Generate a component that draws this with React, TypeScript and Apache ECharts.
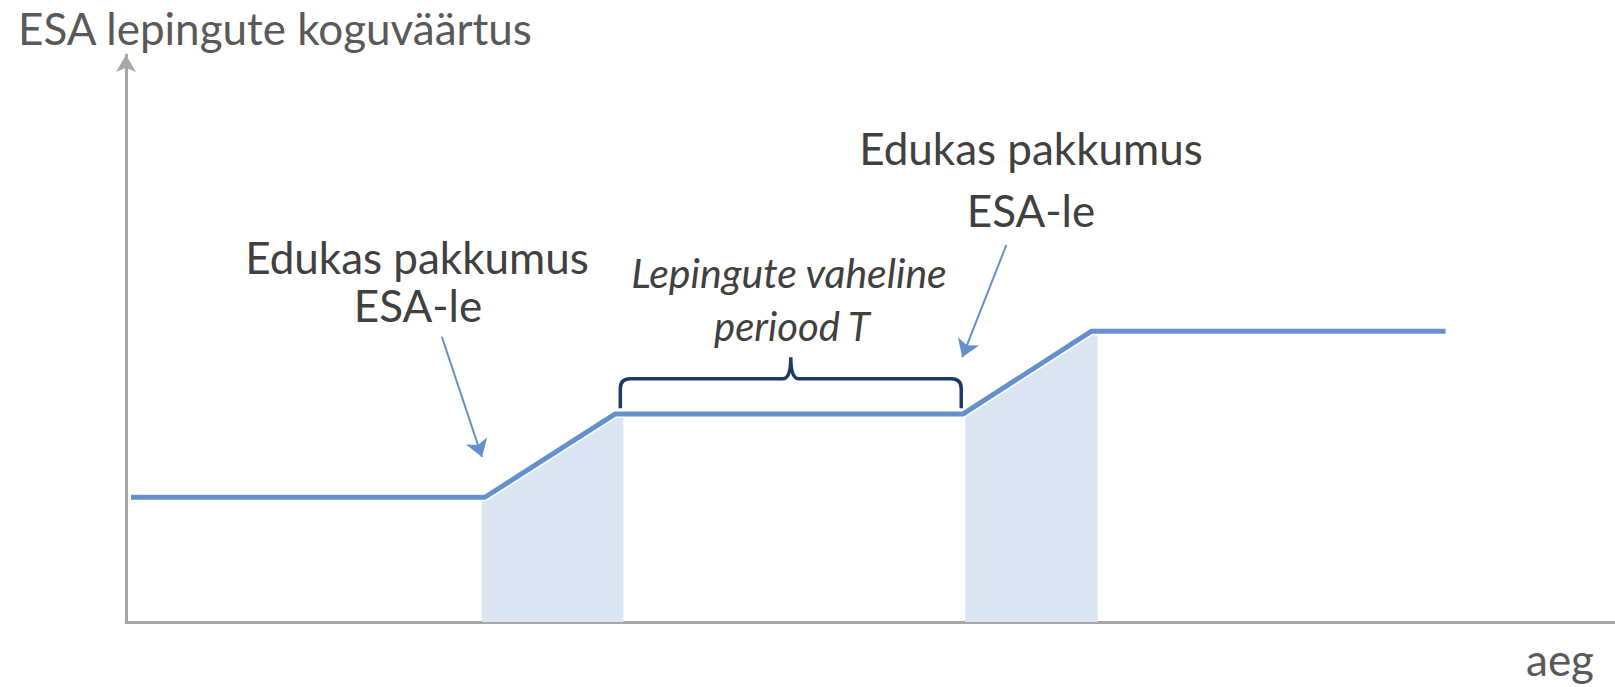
import React, { useEffect, useRef } from "react";
import * as echarts from "echarts";

// Time (x) and total contract value (y), abstract units
const timeline = [0.5, 35.8, 48.8, 83.5, 96.3, 131.6];
const contractValue = [22, 22, 36.7, 36.7, 51.3, 51.3];

// Shaded growth periods after a successful bid
const shade1Time = [35.5, 48.8, 49.6];
const shade1Value = [22, 36.7, 36.7];
const shade2Time = [83.7, 96.3, 96.9];
const shade2Value = [36.7, 51.3, 51.3];

// Brace marking the period between contracts: [xStart, xEnd, yBottom, yTop, yTip]
const brace = [49.3, 83.3, 37.7, 42.9, 46.7];

// Annotation arrows: [from, to]
const arrow1 = [[31.5, 50.3], [35.5, 29.1]];
const arrow2 = [[87.8, 66.5], [83.4, 46.7]];

const yAxisTitle = "ESA lepingute koguväärtus";
const xAxisTitle = "aeg";
const bidLabel = ["Edukas pakkumus", "ESA-le"];
const periodLabel = ["Lepingute vaheline", "periood T"];

const zip = (xs: number[], ys: number[]) => xs.map((x, i) => [x, ys[i]]);

export default function App() {
  const ref = useRef<HTMLDivElement>(null);
  useEffect(() => {
    document.body.style.margin = "0";
    const chart = echarts.init(ref.current!, null, { renderer: "svg" });
    const axisColor = "#A6A6A6";
    const lineColor = "#6690CB";
    const shadeColor = "#DCE6F2";
    const textDark = "#404040";
    const textGray = "#595959";
    const font = "Lato";
    const txt = (text: string, x: number, y: number, size: number, color: string, align = "center", italic = false) => ({
      type: "text",
      x,
      y,
      silent: true,
      style: {
        text,
        fill: color,
        fontSize: size,
        fontFamily: font,
        fontStyle: italic ? "italic" : "normal",
        align,
        verticalAlign: "middle",
      },
    });
    chart.setOption({
      animation: false,
      grid: { left: 126, right: 0, top: 55, bottom: 65 },
      xAxis: {
        type: "value",
        min: 0,
        max: 148.5,
        axisLine: {
          show: true,
          symbol: "none",
          lineStyle: { color: axisColor, width: 3 },
        },
        axisTick: { show: false },
        axisLabel: { show: false },
        splitLine: { show: false },
      },
      yAxis: {
        type: "value",
        min: 0,
        max: 100,
        axisLine: {
          show: true,
          symbol: ["none", "arrow"],
          symbolSize: [15, 17],
          lineStyle: { color: axisColor, width: 3 },
        },
        axisTick: { show: false },
        axisLabel: { show: false },
        splitLine: { show: false },
      },
      series: [
        {
          type: "line",
          data: zip(shade1Time, shade1Value),
          symbol: "none",
          lineStyle: { width: 0 },
          areaStyle: { color: shadeColor, opacity: 1 },
          silent: true,
        },
        {
          type: "line",
          data: zip(shade2Time, shade2Value),
          symbol: "none",
          lineStyle: { width: 0 },
          areaStyle: { color: shadeColor, opacity: 1 },
          silent: true,
        },
        {
          type: "line",
          data: zip(timeline, contractValue),
          symbol: "none",
          lineStyle: { color: "#ffffff", width: 8 },
          silent: true,
        },
        {
          type: "line",
          name: yAxisTitle,
          data: zip(timeline, contractValue),
          symbol: "none",
          lineStyle: { color: lineColor, width: 5 },
          silent: true,
          markLine: {
            silent: true,
            symbol: ["none", "arrow"],
            symbolSize: 17,
            label: { show: false },
            lineStyle: { color: lineColor, width: 2, type: "solid" },
            data: [
              [{ coord: arrow1[0] }, { coord: arrow1[1] }],
              [{ coord: arrow2[0] }, { coord: arrow2[1] }],
            ],
          },
        },
        {
          type: "custom",
          silent: true,
          data: [brace],
          renderItem: (params: any, api: any) => {
            const p1 = api.coord([api.value(0), api.value(2)]);
            const p2 = api.coord([api.value(1), api.value(2)]);
            const yt = api.coord([0, api.value(3)])[1];
            const ytip = api.coord([0, api.value(4)])[1];
            const x1 = p1[0];
            const x2 = p2[0];
            const yb = p1[1];
            const xm = (x1 + x2) / 2;
            const r = 10;
            const c = 8;
            const d =
              `M${x1} ${yb} L${x1} ${yt + r} Q${x1} ${yt} ${x1 + r} ${yt} ` +
              `L${xm - c} ${yt} Q${xm} ${yt} ${xm} ${ytip} Q${xm} ${yt} ${xm + c} ${yt} ` +
              `L${x2 - r} ${yt} Q${x2} ${yt} ${x2} ${yt + r} L${x2} ${yb}`;
            return {
              type: "path",
              shape: { pathData: d },
              style: { fill: "none", stroke: "#203864", lineWidth: 3.5 },
            };
          },
        },
      ],
      graphic: [
        txt(yAxisTitle, 18, 28, 44, textGray, "left"),
        txt(xAxisTitle, 1560, 659, 44, textGray),
        txt(bidLabel[0], 417, 257, 44, textDark),
        txt(bidLabel[1], 418, 305, 44, textDark),
        txt(bidLabel[0], 1031, 148, 44, textDark),
        txt(bidLabel[1], 1031, 210, 44, textDark),
        txt(periodLabel[0], 789, 272, 41, textDark, "center", true),
        txt(periodLabel[1], 792, 326, 40, textDark, "center", true),
      ],
    });
    return () => chart.dispose();
  }, []);
  return <div ref={ref} style={{ width: 1615, height: 687 }} />;
}
